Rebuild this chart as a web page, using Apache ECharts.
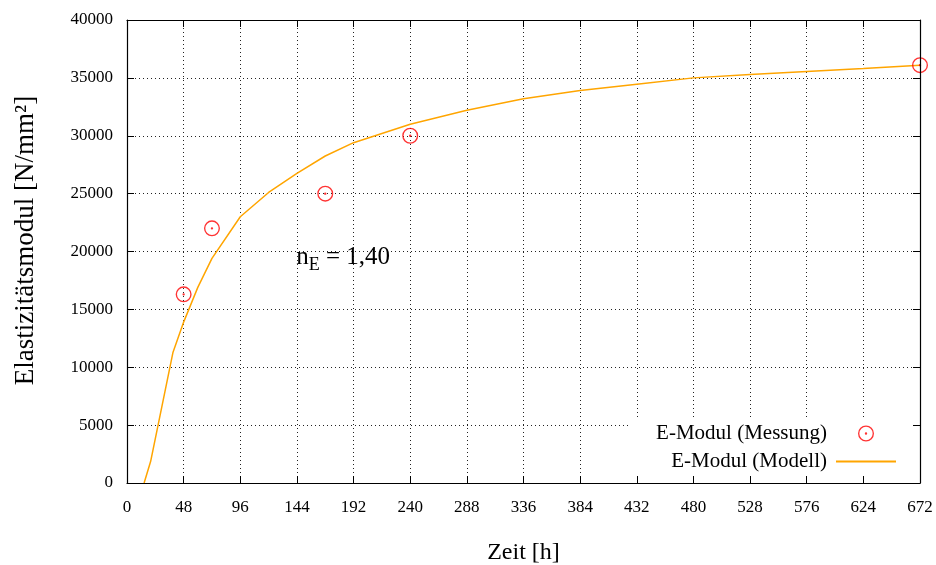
<!DOCTYPE html>
<html>
<head>
<meta charset="utf-8">
<script src="https://cdn.jsdelivr.net/npm/echarts@6/dist/echarts.min.js"></script>
<style>
html,body{margin:0;padding:0;background:#fff;}
#chart{width:936px;height:565px;}
</style>
</head>
<body>
<div id="chart"></div>
<script>
// ---- data ----
const xTicks = [0, 48, 96, 144, 192, 240, 288, 336, 384, 432, 480, 528, 576, 624, 672];
const yTicks = [0, 5000, 10000, 15000, 20000, 25000, 30000, 35000, 40000];
const measTime = [48, 72, 168, 240, 672];
const measE = [16300, 22000, 25000, 30000, 36100];
const modelTime = [14.5, 20, 39, 48, 60, 72, 96, 120, 144, 168, 192, 240, 288, 336, 384, 432, 480, 528, 576, 624, 672];
const modelE = [0, 1850, 11300, 13900, 16900, 19400, 23000, 25100, 26750, 28250, 29400, 31000, 32200, 33200, 33900, 34450, 35000, 35300, 35550, 35800, 36100];
const seriesNames = ['E-Modul (Messung)', 'E-Modul (Modell)'];
const annotation = {x: 143.4, y: 19450, main: 'n', sub: 'E', rest: ' = 1,40'};

const FONT = '"Liberation Serif", "DejaVu Serif", serif';
const markerPath = 'path://M8 0A8 8 0 1 1 8 16A8 8 0 1 1 8 0ZM8 1.35A6.65 6.65 0 1 0 8 14.65A6.65 6.65 0 1 0 8 1.35ZM8 6.8A1.2 1.2 0 1 1 8 9.2A1.2 1.2 0 1 1 8 6.8Z';

const xMin = xTicks[0], xMax = xTicks[xTicks.length - 1], xStep = xTicks[1] - xTicks[0];
const yMin = yTicks[0], yMax = yTicks[yTicks.length - 1], yStep = yTicks[1] - yTicks[0];

const chart = echarts.init(document.getElementById('chart'), null, {renderer: 'canvas'});

const tickStyle = {show: true, inside: true, length: 7, lineStyle: {color: '#000', width: 1}};
const lineStyle = {show: true, onZero: false, lineStyle: {color: '#000', width: 1.2}};
const gridLine = {show: true, lineStyle: {color: '#222', width: 1, type: [1, 3]}};
const labelStyle = {fontFamily: FONT, fontSize: 17, color: '#000', formatter: v => String(v)};

const option = {
  animation: false,
  backgroundColor: '#fff',
  grid: {left: 127, right: 16, top: 20, bottom: 82, containLabel: false, outerBoundsMode: 'none'},
  xAxis: [
    {type: 'value', position: 'bottom', min: xMin, max: xMax, interval: xStep, z: 10,
     axisLine: lineStyle, axisTick: tickStyle,
     axisLabel: Object.assign({margin: 16}, labelStyle),
     splitLine: {show: false},
     name: 'Zeit [h]', nameLocation: 'middle', nameGap: 58,
     nameTextStyle: {fontFamily: FONT, fontSize: 24, color: '#000'}},
    {type: 'value', position: 'top', min: xMin, max: xMax, interval: xStep, z: 10,
     axisLine: lineStyle, axisTick: tickStyle, axisLabel: {show: false}, splitLine: {show: false}},
    {type: 'value', position: 'bottom', min: xMin, max: xMax, interval: xStep, z: 0,
     axisLine: {show: false}, axisTick: {show: false}, axisLabel: {show: false}, splitLine: gridLine}
  ],
  yAxis: [
    {type: 'value', position: 'left', min: yMin, max: yMax, interval: yStep, z: 10,
     axisLine: lineStyle, axisTick: tickStyle,
     axisLabel: Object.assign({margin: 14}, labelStyle),
     splitLine: {show: false},
     name: 'Elastizitätsmodul [N/mm²]', nameLocation: 'middle', nameGap: 88, nameRotate: 90,
     nameTextStyle: {fontFamily: FONT, fontSize: 27, color: '#000', padding: [0, 0, 0, 22]}},
    {type: 'value', position: 'right', min: yMin, max: yMax, interval: yStep, z: 10,
     axisLine: lineStyle, axisTick: tickStyle, axisLabel: {show: false}, splitLine: {show: false}},
    {type: 'value', position: 'left', min: yMin, max: yMax, interval: yStep, z: 0,
     axisLine: {show: false}, axisTick: {show: false}, axisLabel: {show: false}, splitLine: gridLine}
  ],
  legend: {
    orient: 'vertical', align: 'right', right: 16, bottom: 82,
    backgroundColor: '#fff', padding: [5, 23, 11, 27],
    itemWidth: 60, itemHeight: 16, itemGap: 7,
    textStyle: {fontFamily: FONT, fontSize: 21, color: '#000', lineHeight: 21, padding: [0, 4, 0, 0]},
    data: [
      {name: seriesNames[0]},
      {name: seriesNames[1], itemStyle: {opacity: 0}}
    ]
  },
  series: [
    {name: seriesNames[0], type: 'scatter', xAxisIndex: 0, yAxisIndex: 0,
     data: measTime.map((t, i) => [t, measE[i]]),
     symbol: markerPath, symbolSize: 16, z: 5,
     itemStyle: {color: '#ff0000'}},
    {name: seriesNames[1], type: 'line', xAxisIndex: 0, yAxisIndex: 0,
     data: modelTime.map((t, i) => [t, modelE[i]]),
     symbol: 'none', showSymbol: false, z: 4,
     lineStyle: {color: '#ffa500', width: 1.5}, itemStyle: {color: '#ffa500'}}
  ]
};
chart.setOption(option);

// annotation n_E = 1,40 placed in data coordinates
const ctx = document.createElement('canvas').getContext('2d');
function textW(s, size) { ctx.font = size + 'px ' + FONT; return ctx.measureText(s).width; }
const p = chart.convertToPixel({xAxisIndex: 0, yAxisIndex: 0}, [annotation.x, annotation.y]);
const mainSize = 25, subSize = 18;
const w1 = textW(annotation.main, mainSize);
const w2 = textW(annotation.sub, subSize);
chart.setOption({
  graphic: [
    {type: 'text', x: p[0], y: p[1], z: 20,
     style: {text: annotation.main, font: mainSize + 'px ' + FONT, fill: '#000', verticalAlign: 'middle', align: 'left'}},
    {type: 'text', x: p[0] + w1, y: p[1] + 7, z: 20,
     style: {text: annotation.sub, font: subSize + 'px ' + FONT, fill: '#000', verticalAlign: 'middle', align: 'left'}},
    {type: 'text', x: p[0] + w1 + w2, y: p[1], z: 20,
     style: {text: annotation.rest, font: mainSize + 'px ' + FONT, fill: '#000', verticalAlign: 'middle', align: 'left'}}
  ]
});
</script>
</body>
</html>
